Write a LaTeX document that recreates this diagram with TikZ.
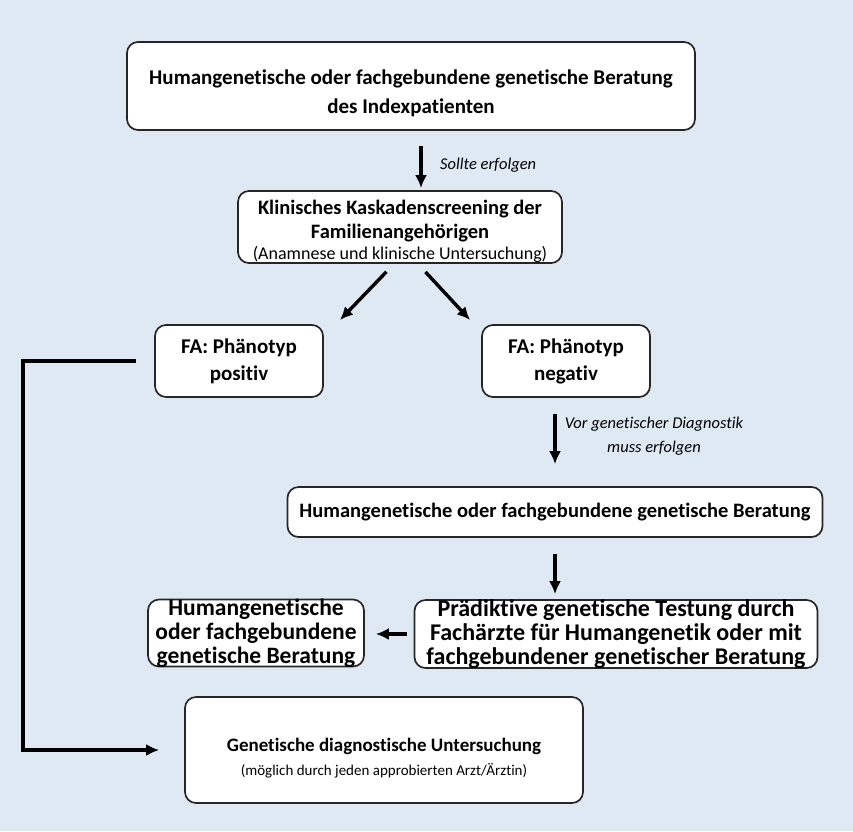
\documentclass[tikz,border=0pt]{standalone}
\usepackage{fontspec}
\setmainfont{Carlito}[Ligatures=NoCommon]
\usepackage{tikz}
\usepackage{xcolor}
\usetikzlibrary{positioning,arrows.meta}
\definecolor{bgblue}{RGB}{223,233,244}

\begin{document}
\begin{tikzpicture}[x=1pt,y=-1pt]
\tikzstyle{every node}+=[inner sep=0pt]
\tikzstyle{box}=[draw=black!85,fill=white,rounded corners=11pt,line width=1.7pt,align=center,font=\fontsize{20.5}{24}\selectfont\bfseries]
\tikzstyle{flow}=[line width=3.4pt,-{Latex[length=13pt,width=12pt]}]
\tikzstyle{note}=[font=\fontsize{16.5}{24}\selectfont\itshape,align=center]
\fill [bgblue] (0,0) rectangle (853,831);
\useasboundingbox (0,0) rectangle (853,831);
\node [box,minimum width=568,minimum height=88,font=\fontsize{21}{29}\selectfont\bfseries] (index) at (411,86) {\rule{0pt}{30pt}Humangenetische oder fachgebundene genetische Beratung\\des Indexpatienten};
\node [box,minimum width=324,minimum height=70] (screen) at (400,227) {\rule{0pt}{24pt}Klinisches Kaskadenscreening der\\Familienangehörigen\\[-3pt]{\mdseries\fontsize{18}{20}\selectfont (Anamnese und klinische Untersuchung)}};
\node [box,minimum width=168,minimum height=72,font=\fontsize{21}{27}\selectfont\bfseries] (pos) at (239,361) {FA: Phänotyp\\positiv};
\node [box,minimum width=168,minimum height=72,font=\fontsize{21}{27}\selectfont\bfseries] (neg) at (566,361) {FA: Phänotyp\\negativ};
\node [box,minimum width=535,minimum height=50] (rat) at (555,512) {Humangenetische oder fachgebundene genetische Beratung};
\node [box,minimum width=403,minimum height=68,inner ysep=-2pt,font=\fontsize{24}{24}\selectfont\bfseries] (test) at (616,634) {Prädiktive genetische Testung durch\\Fachärzte für Humangenetik oder mit\\fachgebundener genetischer Beratung};
\node [box,minimum width=216,minimum height=67,inner ysep=-2pt,font=\fontsize{23.5}{24}\selectfont\bfseries] (rat2) at (256,633) {Humangenetische\\oder fachgebundene\\genetische Beratung};
\node [box,minimum width=398,minimum height=106,font=\fontsize{19}{24}\selectfont\bfseries] (diag) at (384,750) {\rule{0pt}{30pt}Genetische diagnostische Untersuchung\\{\mdseries\fontsize{15}{20}\selectfont (möglich durch jeden approbierten Arzt/Ärztin)}};
\coordinate (a1) at (421,0);
\coordinate (l1) at (394,0);
\coordinate (r1) at (418,0);
\coordinate (l2) at (340,320);
\coordinate (r2) at (470,320);
\coordinate (corner) at (23,750);
\draw [flow,shorten <=15pt,shorten >=2pt] (index.south -| a1) -- (screen.north -| a1);
\node [note,anchor=west] (sollte) at (440,165) {Sollte erfolgen};
\draw [flow,shorten <=11pt] (screen.south -| l1) -- (l2);
\draw [flow,shorten <=11pt] (screen.south -| r1) -- (r2);
\draw [flow,shorten <=16pt,shorten >=22pt] (neg.south -| rat.north) -- (rat.north);
\node [note] (vor) at (654,436) {Vor genetischer Diagnostik\\muss erfolgen};
\draw [flow,shorten <=16pt,shorten >=5pt] (rat.south) -- (rat.south |- test.north);
\draw [flow,shorten <=7pt,shorten >=11pt] (test.west) -- (test.west -| rat2.east);
\draw [flow,shorten <=18pt,shorten >=25pt] (pos.west) -| (corner) -- (diag.west);
\end{tikzpicture}
\end{document}
